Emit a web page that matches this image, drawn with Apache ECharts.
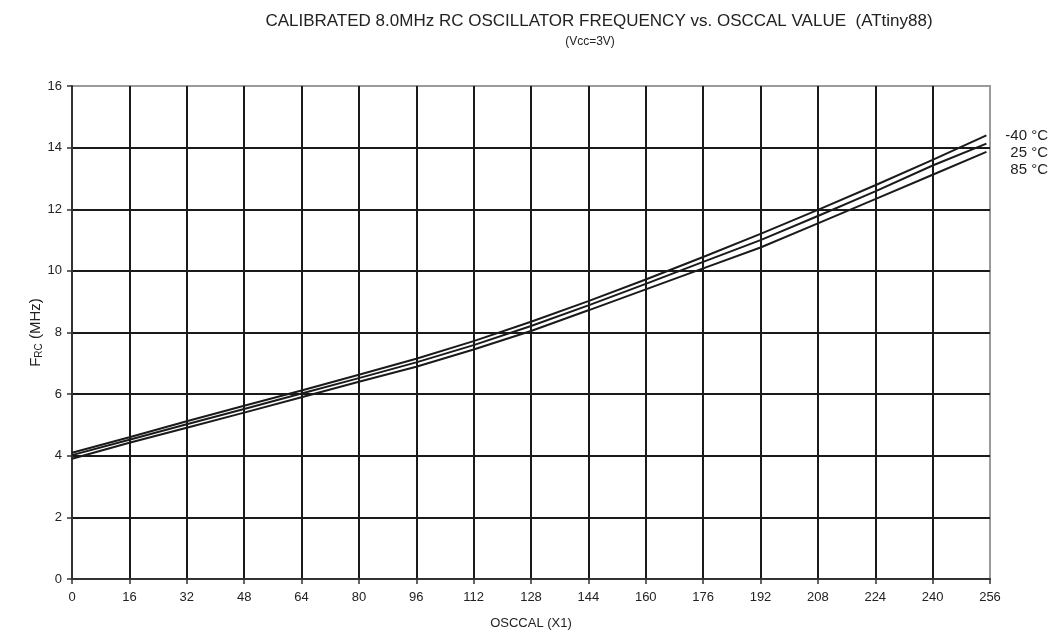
<!DOCTYPE html>
<html>
<head>
<meta charset="utf-8">
<script src="https://cdn.jsdelivr.net/npm/echarts@6/dist/echarts.min.js"></script>
<style>html,body{margin:0;padding:0;background:#fff}#c{width:1064px;height:638px}</style>
</head>
<body>
<div id="c"></div>
<script>
const osccal = [0, 16, 32, 48, 64, 80, 96, 112, 128, 144, 160, 176, 192, 208, 224, 240, 255];
const tM40 = [4.10, 4.60, 5.12, 5.62, 6.12, 6.63, 7.15, 7.72, 8.35, 9.02, 9.72, 10.45, 11.20, 11.98, 12.78, 13.60, 14.40];
const t25  = [4.02, 4.52, 5.02, 5.52, 6.02, 6.52, 7.03, 7.59, 8.21, 8.88, 9.58, 10.29, 11.00, 11.78, 12.58, 13.42, 14.13];
const t85  = [3.90, 4.42, 4.91, 5.40, 5.90, 6.40, 6.89, 7.45, 8.05, 8.72, 9.40, 10.08, 10.76, 11.54, 12.33, 13.12, 13.86];
const seriesNames = ['-40 °C', '25 °C', '85 °C'];
const xTicks = [0, 16, 32, 48, 64, 80, 96, 112, 128, 144, 160, 176, 192, 208, 224, 240, 256];
const yTicks = [0, 2, 4, 6, 8, 10, 12, 14, 16];

const font = 'Liberation Sans, Arial, sans-serif';
const chart = echarts.init(document.getElementById('c'), null, {renderer: 'canvas'});
const pair = arr => osccal.map((x, i) => [x, arr[i]]);
const mk = (name, arr) => ({
  name, type: 'line', data: pair(arr), showSymbol: false, smooth: false,
  lineStyle: {color: '#1a1a1a', width: 2}, animation: false, z: 5
});
chart.setOption({
  animation: false,
  backgroundColor: '#fff',
  title: [
    {text: 'CALIBRATED 8.0MHz RC OSCILLATOR FREQUENCY vs. OSCCAL VALUE  (ATtiny88)', left: 594, top: 8, textAlign: 'center',
     textStyle: {fontFamily: font, fontSize: 17, fontWeight: 'normal', color: '#222'}},
    {text: '(Vcc=3V)', left: 585, top: 31, textAlign: 'center',
     textStyle: {fontFamily: font, fontSize: 12, fontWeight: 'normal', color: '#222'}}
  ],
  grid: {left: 72, right: 74, top: 86, bottom: 59, show: true, borderColor: '#9a9a9a', borderWidth: 2, backgroundColor: 'transparent'},
  xAxis: {
    type: 'value', min: 0, max: 256, interval: 16,
    name: 'OSCCAL (X1)', nameLocation: 'middle', nameGap: 38,
    nameTextStyle: {fontFamily: font, fontSize: 13, color: '#222'},
    axisLine: {show: true, onZero: false, lineStyle: {color: '#333', width: 2}},
    axisTick: {show: true, length: 5, inside: false, lineStyle: {color: '#333', width: 1.5}},
    axisLabel: {fontFamily: font, fontSize: 13, color: '#222', margin: 12,
      formatter: v => xTicks.includes(v) ? String(v) : ''},
    splitLine: {show: true, showMinLine: false, showMaxLine: false, lineStyle: {color: '#1a1a1a', width: 2}}
  },
  yAxis: {
    type: 'value', min: 0, max: 16, interval: 2,
    name: '{a|F}{b|RC}{a| (MHz)}', nameLocation: 'middle', nameGap: 28, nameRotate: 90, nameMoveOverlap: false,
    nameTextStyle: {fontFamily: font, color: '#222',
      rich: {a: {fontFamily: font, fontSize: 15, color: '#222'}, b: {fontFamily: font, fontSize: 10, color: '#222', padding: [7, 0, 0, 0]}}},
    axisLine: {show: true, lineStyle: {color: '#333', width: 2}},
    axisTick: {show: true, length: 5, inside: false, lineStyle: {color: '#333', width: 1.5}},
    axisLabel: {fontFamily: font, fontSize: 13, color: '#222', margin: 10,
      formatter: v => yTicks.includes(v) ? String(v) : ''},
    splitLine: {show: true, showMinLine: false, showMaxLine: false, lineStyle: {color: '#1a1a1a', width: 2}}
  },
  series: [mk(seriesNames[0], tM40), mk(seriesNames[1], t25), mk(seriesNames[2], t85)],
  graphic: [
    {type: 'text', right: 16, top: 128, style: {text: seriesNames[0], font: '15px ' + font, fill: '#222', textAlign: 'right'}},
    {type: 'text', right: 16, top: 145, style: {text: seriesNames[1], font: '15px ' + font, fill: '#222', textAlign: 'right'}},
    {type: 'text', right: 16, top: 162, style: {text: seriesNames[2], font: '15px ' + font, fill: '#222', textAlign: 'right'}}
  ]
});
</script>
</body>
</html>
